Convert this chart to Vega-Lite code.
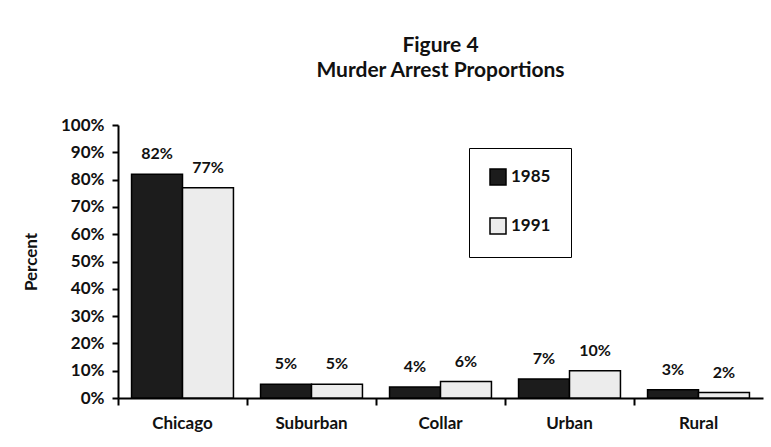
{
  "$schema": "https://vega.github.io/schema/vega-lite/v6.json",
  "width": 645,
  "height": 273,
  "autosize": {"type": "none"},
  "padding": {"left": 118, "top": 125, "right": 8, "bottom": 49},
  "background": "white",
  "title": {
    "text": ["Figure 4", "Murder Arrest Proportions"],
    "font": "Lato",
    "fontSize": 21,
    "fontWeight": "bold",
    "lineHeight": 25,
    "color": "#111",
    "anchor": "middle",
    "offset": 35
  },
  "data": {
    "values": [
      {"region": "Chicago", "year": "1985", "value": 82},
      {"region": "Chicago", "year": "1991", "value": 77},
      {"region": "Suburban", "year": "1985", "value": 5},
      {"region": "Suburban", "year": "1991", "value": 5},
      {"region": "Collar", "year": "1985", "value": 4},
      {"region": "Collar", "year": "1991", "value": 6},
      {"region": "Urban", "year": "1985", "value": 7},
      {"region": "Urban", "year": "1991", "value": 10},
      {"region": "Rural", "year": "1985", "value": 3},
      {"region": "Rural", "year": "1991", "value": 2}
    ]
  },
  "encoding": {
    "x": {
      "field": "region",
      "type": "nominal",
      "sort": ["Chicago", "Suburban", "Collar", "Urban", "Rural"],
      "scale": {"paddingInner": 0.21, "paddingOuter": 0.105},
      "axis": {
        "title": null,
        "labelAngle": 0,
        "labelFont": "Lato",
        "labelFontSize": 17,
        "labelFontWeight": "bold",
        "labelColor": "#111",
        "labelPadding": 10,
        "domainColor": "black",
        "domainWidth": 2,
        "tickColor": "black",
        "tickWidth": 2,
        "tickSize": 7,
        "bandPosition": -0.132
      }
    },
    "xOffset": {"field": "year", "type": "nominal"},
    "y": {
      "field": "value",
      "type": "quantitative",
      "scale": {"domain": [0, 100]},
      "axis": {
        "title": "Percent",
        "titleFont": "Lato",
        "titleFontSize": 17,
        "titleFontWeight": "bold",
        "titleColor": "#111",
        "titlePadding": 20,
        "values": [0, 10, 20, 30, 40, 50, 60, 70, 80, 90, 100],
        "labelExpr": "datum.value + '%'",
        "labelFont": "Lato",
        "labelFontSize": 17,
        "labelFontWeight": "bold",
        "labelColor": "#111",
        "labelPadding": 8,
        "grid": false,
        "domainColor": "black",
        "domainWidth": 2,
        "tickColor": "black",
        "tickWidth": 2,
        "tickSize": 6
      }
    }
  },
  "layer": [
    {
      "mark": {"type": "bar", "stroke": "black", "strokeWidth": 1.5},
      "encoding": {
        "color": {
          "field": "year",
          "type": "nominal",
          "scale": {"domain": ["1985", "1991"], "range": ["#1c1c1c", "#ececec"]},
          "legend": {
            "title": null,
            "orient": "none",
            "legendX": 351,
            "legendY": 23,
            "direction": "vertical",
            "symbolType": "square",
            "symbolSize": 256,
            "symbolStrokeColor": "black",
            "symbolStrokeWidth": 1.5,
            "labelFont": "Lato",
            "labelFontSize": 17,
            "labelFontWeight": "bold",
            "labelColor": "#111",
            "labelOffset": 4,
            "rowPadding": 27,
            "padding": 20,
            "strokeColor": "black",
            "fillColor": "white"
          }
        }
      }
    },
    {
      "mark": {
        "type": "text",
        "dy": -15,
        "baseline": "alphabetic",
        "font": "Lato",
        "fontSize": 16,
        "fontWeight": "bold",
        "color": "#111",
        "text": {"expr": "datum.value + '%'"}
      },
      "encoding": {
        "y": {"field": "value", "type": "quantitative"}
      }
    }
  ],
  "config": {"view": {"stroke": null}}
}
